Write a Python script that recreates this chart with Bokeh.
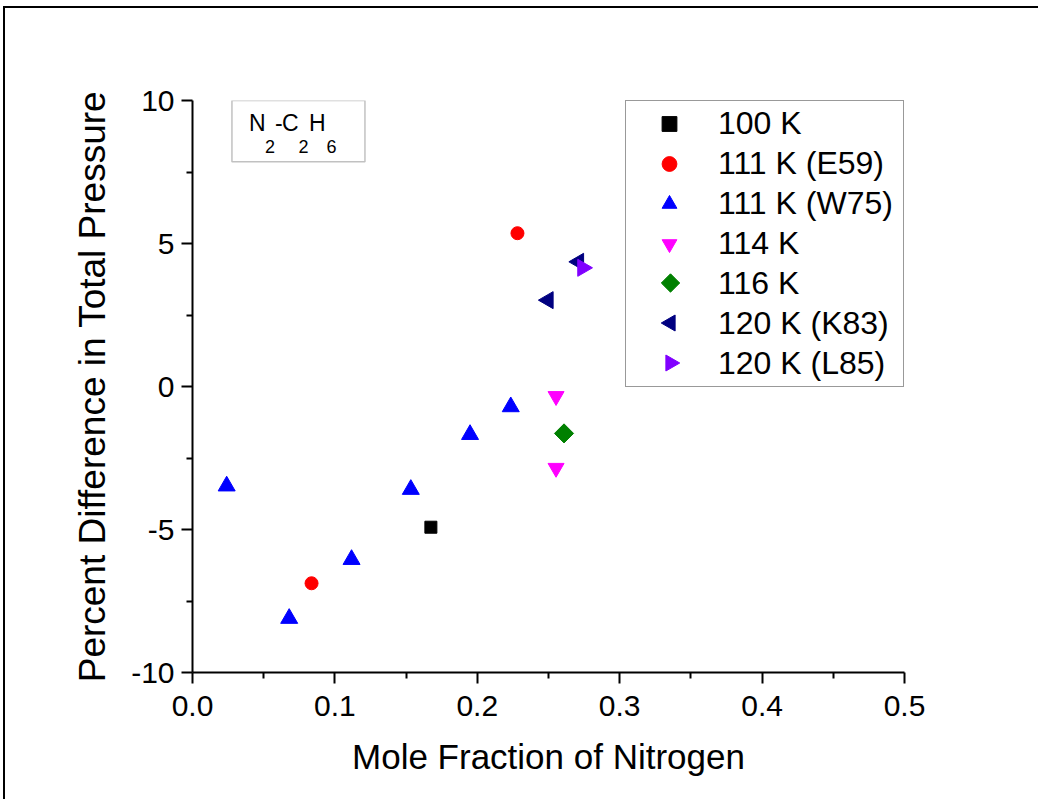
import math
from bokeh.plotting import figure
from bokeh.models import (FixedTicker, PrintfTickFormatter, Legend, LegendItem,
                          BoxAnnotation, Label, Range1d)
from bokeh.embed import file_html
from bokeh.resources import INLINE

FONT = "Liberation Sans"

# ---------------- data ----------------
series_names = ["100 K", "111 K (E59)", "111 K (W75)", "114 K", "116 K",
                "120 K (K83)", "120 K (L85)"]
series_colors = ["black", "#FF0000", "#0000FF", "#FF00FF", "#008000",
                 "#000080", "#8000FF"]
x_100 = [0.1674]
y_100 = [-4.92]
x_e59 = [0.2282, 0.0836]
y_e59 = [5.36, -6.88]
x_w75 = [0.0240, 0.0679, 0.1117, 0.1533, 0.1949, 0.2235]
y_w75 = [-3.48, -8.11, -6.05, -3.60, -1.68, -0.71]
x_114 = [0.2553, 0.2553]
y_114 = [-0.34, -2.85]
x_116 = [0.2609]
y_116 = [-1.64]
x_k83 = [0.2712, 0.2498]
y_k83 = [4.36, 3.02]
x_l85 = [0.2740]
y_l85 = [4.15]

x_major = [0.0, 0.1, 0.2, 0.3, 0.4, 0.5]
x_minor = [0.05, 0.15, 0.25, 0.35, 0.45]
y_major = [-10, -5, 0, 5, 10]
y_minor = [-7.5, -2.5, 2.5, 7.5]

x_title = "Mole Fraction of Nitrogen"
y_title = "Percent Difference in Total Pressure"

# ---------------- layout constants ----------------
X0, X1 = 0.0, 0.5
Y0, Y1 = -10.0, 10.0
FW, FH = 712, 572

p = figure(frame_width=FW, frame_height=FH,
           x_range=Range1d(X0, X1), y_range=Range1d(Y0, Y1),
           output_backend="svg", toolbar_location=None,
           min_border_left=187, min_border_top=92,
           min_border_right=134, min_border_bottom=127)
# page frame line (left and top edges)
p.styles = {"margin-left": "3px", "margin-top": "6px",
            "border-left": "2px solid black", "border-top": "2px solid black"}
p.xgrid.visible = False
p.ygrid.visible = False
p.outline_line_color = None
p.background_fill_color = "white"
p.border_fill_color = "white"

for ax, maj, mnr, fmt in ((p.xaxis[0], x_major, x_minor, "%.1f"),
                          (p.yaxis[0], y_major, y_minor, "%d")):
    ax.ticker = FixedTicker(ticks=maj, minor_ticks=mnr)
    ax.formatter = PrintfTickFormatter(format=fmt)
    ax.axis_line_width = 2
    ax.axis_line_color = "black"
    ax.major_tick_line_width = 2
    ax.minor_tick_line_width = 2
    ax.major_tick_line_color = "black"
    ax.minor_tick_line_color = "black"
    ax.major_tick_out = 11
    ax.major_tick_in = 0
    ax.minor_tick_out = 6
    ax.minor_tick_in = 0
    ax.major_label_text_font = FONT
    ax.major_label_text_font_size = "30px"
    ax.major_label_text_color = "black"
    ax.axis_label_text_font = FONT
    ax.axis_label_text_font_style = "normal"
    ax.axis_label_text_color = "black"

p.xaxis.axis_label = x_title
p.yaxis.axis_label = y_title
p.xaxis.axis_label_text_font_size = "35px"
p.yaxis.axis_label_text_font_size = "37px"
p.xaxis.major_label_standoff = 12
p.yaxis.major_label_standoff = 7
p.xaxis.axis_label_standoff = 18
p.yaxis.axis_label_standoff = 15

# ---------------- markers ----------------
r1 = p.scatter(x_100, y_100, marker="square", size=12, color=series_colors[0])
r2 = p.scatter(x_e59, y_e59, marker="circle", size=13, color=series_colors[1])
r3 = p.scatter(x_w75, y_w75, marker="triangle", size=17, color=series_colors[2])
r4 = p.scatter(x_114, y_114, marker="inverted_triangle", size=16,
               color=series_colors[3])
r5 = p.scatter(x_116, y_116, marker="square", size=13.5, angle=math.pi / 4,
               color=series_colors[4])
r6 = p.scatter(x_k83, y_k83, marker="triangle", size=17, angle=math.pi / 2,
               color=series_colors[5])
r7 = p.scatter(x_l85, y_l85, marker="triangle", size=17, angle=-math.pi / 2,
               color=series_colors[6])

# legend swatches of rotated markers are not rotated by Bokeh, so those three
# items get an empty proxy and the rotated swatch is drawn under the
# (transparent) legend
proxies = [p.scatter([], [], marker="square", size=1, alpha=0) for _ in range(3)]
renderers = [r1, r2, r3, r4] + proxies

PAD, GW, GH, SP, STAND, LW = 4, 78, 37, 3, 10, 181
legend = Legend(items=[LegendItem(label=n, renderers=[r])
                       for n, r in zip(series_names, renderers)],
                location="top_right", margin=0, padding=PAD, spacing=SP,
                glyph_height=GH, glyph_width=GW, label_height=GH,
                label_width=LW, label_standoff=STAND,
                label_text_font=FONT, label_text_font_size="32px",
                label_text_color="black",
                border_line_color="#333333", border_line_width=1.5,
                background_fill_alpha=0.0)
p.add_layout(legend, "center")

# swatch positions derived from the legend geometry (pixels -> data units)
legend_w = 2 * PAD + GW + STAND + LW
sw_px_x = FW - legend_w + PAD + GW / 2
sw_x = X0 + sw_px_x / FW * (X1 - X0)
def row_y(i):
    py = PAD + i * (GH + SP) + GH / 2
    return Y1 - py / FH * (Y1 - Y0)

p.scatter([sw_x], [row_y(4)], marker="square", size=13, angle=math.pi / 4,
          color=series_colors[4])
p.scatter([sw_x], [row_y(5)], marker="triangle", size=16, angle=math.pi / 2,
          color=series_colors[5])
p.scatter([sw_x], [row_y(6)], marker="triangle", size=16, angle=-math.pi / 2,
          color=series_colors[6])

# ---------------- N2-C2H6 label box ----------------
box = BoxAnnotation(left=0.0277, right=0.1211, top=10.0, bottom=7.86,
                    fill_alpha=0, line_color="#333333", line_width=1.5)
p.add_layout(box)

title_x = 0.0396
main_y = 9.22
sub_y = 8.38
pieces = [("N", 0, main_y, "23px"), ("2", 16, sub_y, "18px"),
          ("-", 26, main_y, "23px"), ("C", 33, main_y, "23px"),
          ("2", 49.5, sub_y, "18px"), ("H", 60, main_y, "23px"),
          ("6", 77.5, sub_y, "18px")]
for txt, off, yy, fs in pieces:
    p.add_layout(Label(x=title_x, y=yy, x_offset=off, text=txt,
                       text_font=FONT, text_font_size=fs, text_color="black",
                       text_baseline="alphabetic", text_align="left"))

open("out.html", "w").write(file_html(p, INLINE))
